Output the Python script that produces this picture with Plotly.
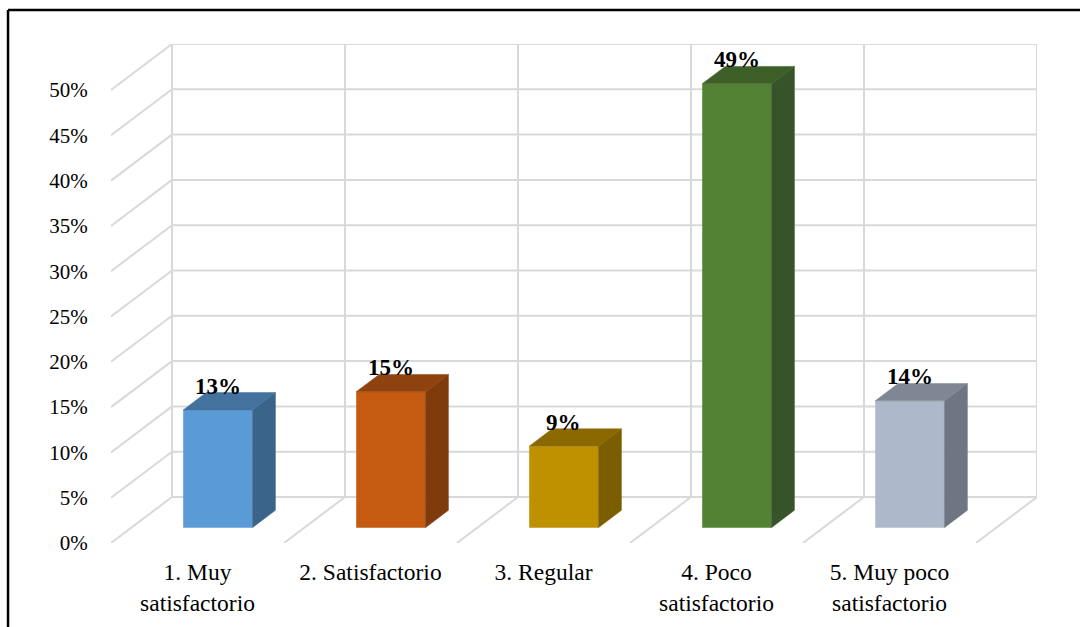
import plotly.graph_objects as go

# Survey results (percent of respondents)
categories = ["1. Muy<br>satisfactorio", "2. Satisfactorio", "3. Regular",
              "4. Poco<br>satisfactorio", "5. Muy poco<br>satisfactorio"]
values = [13, 15, 9, 49, 14]
y_ticks = [0, 5, 10, 15, 20, 25, 30, 35, 40, 45, 50]

front_colors = ["#5B9BD5", "#C55A11", "#BF9000", "#548235", "#ADB9CA"]
top_colors = ["#44729E", "#8E420D", "#8C6900", "#3D5F27", "#7F8794"]
side_colors = ["#3A6489", "#7F3B0C", "#7A5E00", "#36532A", "#6E7683"]

# Oblique projection of the depth axis (category units, percent units)
DX, DY = 0.3526, 5.08
BAR_W = 0.4
F_FRONT, F_BACK = 0.667, 0.29       # bar depth span (0 = back wall, 1 = front)
GRID = "#D9D9D9"
FONT = "Liberation Serif, Times New Roman, serif"

n = len(categories)
y_max = max(y_ticks)
fig = go.Figure()
shapes = []


def grid_line(x0, y0, x1, y1):
    shapes.append(dict(type="line", xref="x", yref="y", x0=x0, y0=y0, x1=x1, y1=y1,
                       layer="below", line=dict(color=GRID, width=2)))


# back wall
for v in y_ticks:
    grid_line(0, v, n, v)
for c in range(n + 1):
    grid_line(c, 0, c, y_max)
# left wall diagonals
for v in y_ticks:
    grid_line(0, v, -DX, v - DY)
# floor diagonals
for c in range(1, n + 1):
    grid_line(c, 0, c - DX, -DY)

# bars: front face + side face + top face
ox, oy = -DX * F_FRONT, -DY * F_FRONT
ddx, ddy = DX * (F_FRONT - F_BACK), DY * (F_FRONT - F_BACK)
for i, v in enumerate(values):
    cx = i + 0.5 + ox
    xl, xr = cx - BAR_W / 2, cx + BAR_W / 2
    y0, y1 = oy, oy + v
    fig.add_trace(go.Scatter(
        x=[xr, xr, xr + ddx, xr + ddx, xr], y=[y0, y1, y1 + ddy, y0 + ddy, y0],
        fill="toself", fillcolor=side_colors[i], mode="lines",
        line=dict(color=side_colors[i], width=0.5), hoverinfo="skip", showlegend=False))
    fig.add_trace(go.Scatter(
        x=[xl, xr, xr + ddx, xl + ddx, xl], y=[y1, y1, y1 + ddy, y1 + ddy, y1],
        fill="toself", fillcolor=top_colors[i], mode="lines",
        line=dict(color=top_colors[i], width=0.5), hoverinfo="skip", showlegend=False))
    fig.add_trace(go.Bar(x=[cx], y=[v], base=[y0], width=BAR_W,
                         marker=dict(color=front_colors[i], line=dict(width=0)),
                         showlegend=False, hoverinfo="skip"))
    fig.add_annotation(x=cx, y=y1 + ddy, text=f"<b>{v}%</b>", showarrow=False,
                       yanchor="bottom", yshift=-8,
                       font=dict(family=FONT, size=23, color="#000000"))

# outer frame (top and left edges)
shapes += [
    dict(type="line", xref="paper", yref="paper", x0=-0.1112, x1=1.1,
         y0=1.068, y1=1.068, line=dict(color="black", width=2.5)),
    dict(type="line", xref="paper", yref="paper", x0=-0.1112, x1=-0.1112,
         y0=1.068, y1=-0.2, line=dict(color="black", width=2.5)),
]

fig.update_layout(
    width=1080, height=627,
    margin=dict(l=111, r=43, t=44, b=84),
    paper_bgcolor="white", plot_bgcolor="white",
    barmode="overlay",
    font=dict(family=FONT, size=21, color="#000000"),
    xaxis=dict(range=[-DX, n], showgrid=False, zeroline=False, showline=False,
               tickmode="array", tickvals=[i + 0.5 - DX for i in range(n)],
               ticktext=categories, ticks="outside", ticklen=8,
               tickcolor="rgba(0,0,0,0)", tickfont=dict(size=23.5)),
    yaxis=dict(range=[-DY, y_max], showgrid=False, zeroline=False, showline=False,
               tickmode="array", tickvals=[v - DY for v in y_ticks],
               ticktext=[f"{v}%" for v in y_ticks], ticks="outside", ticklen=18,
               tickcolor="rgba(0,0,0,0)"),
    shapes=shapes,
)

fig.write_html("out.html")
